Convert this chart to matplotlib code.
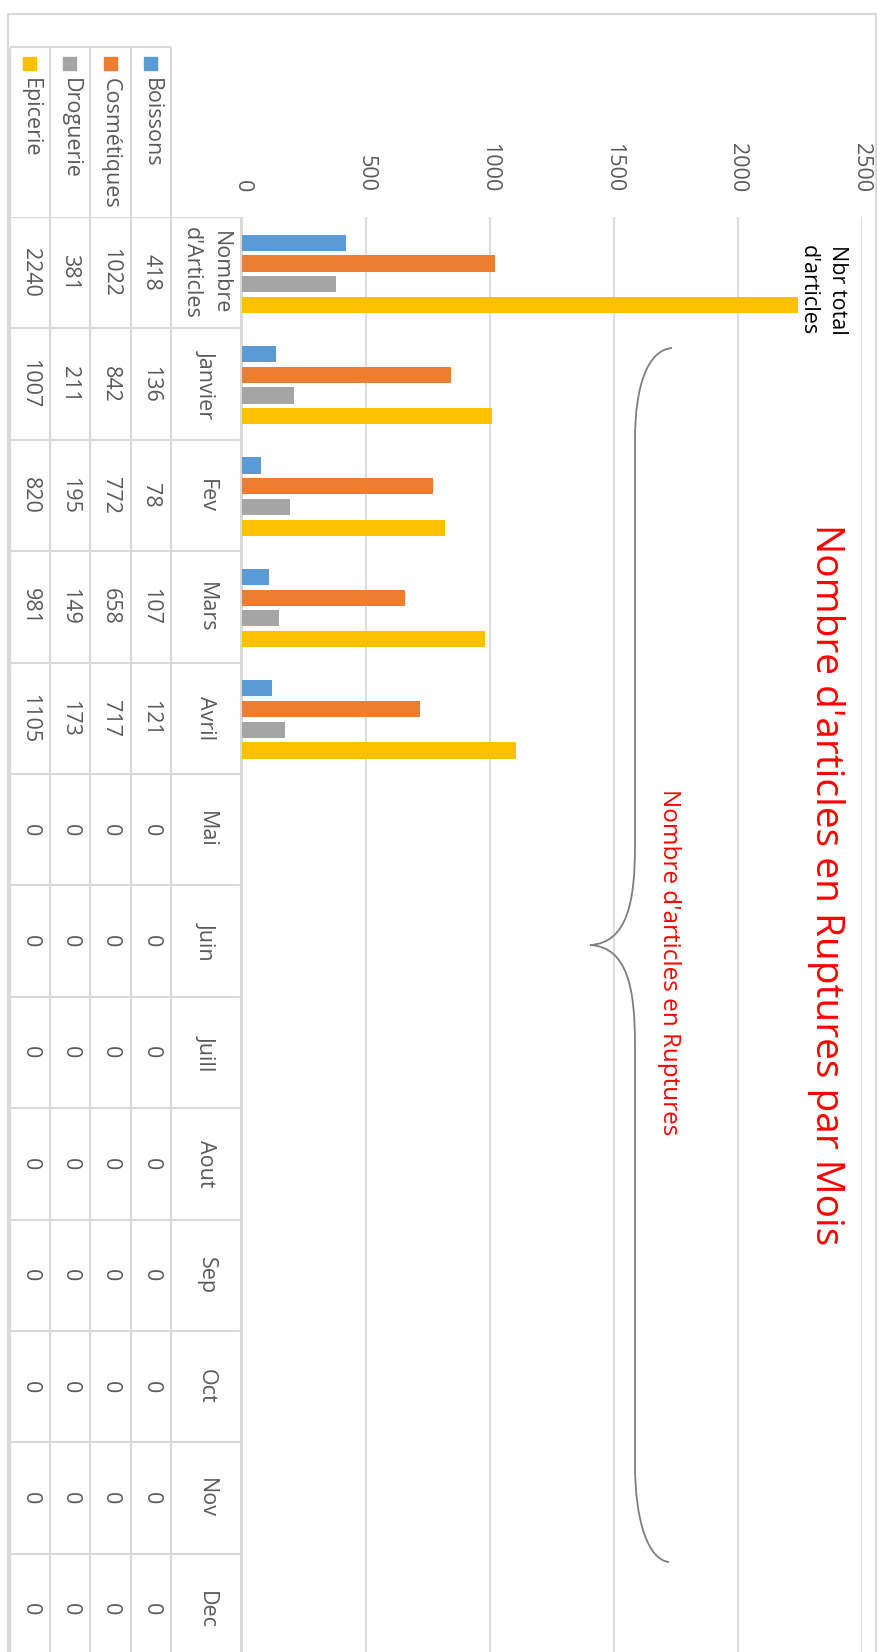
import numpy as np
import matplotlib
matplotlib.use("Agg")
import matplotlib.pyplot as plt
from matplotlib.patches import Rectangle, PathPatch
from matplotlib.path import Path

plt.rcParams['font.family'] = ['Open Sans', 'DejaVu Sans']

# data
categories = ["Nombre\nd'Articles", "Janvier", "Fev", "Mars", "Avril", "Mai", "Juin",
              "Juill", "Aout", "Sep", "Oct", "Nov", "Dec"]
series_names = ["Boissons", "Cosmétiques", "Droguerie", "Epicerie"]
boissons = [418, 136, 78, 107, 121, 0, 0, 0, 0, 0, 0, 0, 0]
cosmetiques = [1022, 842, 772, 658, 717, 0, 0, 0, 0, 0, 0, 0, 0]
droguerie = [381, 211, 195, 149, 173, 0, 0, 0, 0, 0, 0, 0, 0]
epicerie = [2240, 1007, 820, 981, 1105, 0, 0, 0, 0, 0, 0, 0, 0]
value_ticks = [0, 500, 1000, 1500, 2000, 2500]
title = "Nombre d'articles en Ruptures par Mois"
subtitle = "Nombre d'articles en Ruptures"
bar_label = "Nbr total\nd'articles"

series = [boissons, cosmetiques, droguerie, epicerie]
colors = ["#5B9BD5", "#ED7D31", "#A5A5A5", "#FFC000"]
text_grey = "#595959"
line_grey = "#D9D9D9"

# layout (pixels, chart is rotated 90 degrees clockwise)
W, H = 878, 1652
top = 217
row_h = 111.4
plot_left, plot_right = 242, 862
col_centers = [151, 110.5, 70, 30]   # Boissons .. Epicerie
cat_center = 206
col_edges = [10, 50, 90, 131, 171]

fig = plt.figure(figsize=(W / 100, H / 100), dpi=100)

ax = fig.add_axes([plot_left / W, 0, (plot_right - plot_left) / W, (H - top) / H])
n = len(categories)
y = np.arange(n)
y_bottom = -0.5 + (H - top) / row_h
ax.set_xlim(0, 2500)
ax.set_ylim(y_bottom, -0.5)
step = 0.186
for i, (vals, c) in enumerate(zip(series, colors)):
    ax.barh(y + (i - 1.5) * step + 0.01, vals, height=0.145, color=c, zorder=3)
ax.set_xticks(value_ticks)
ax.xaxis.tick_top()
ax.tick_params(axis='x', length=0, pad=18, labelsize=15.5, labelcolor=text_grey,
               labelrotation=-90)
ax.set_yticks([])
for s in ax.spines.values():
    s.set_visible(False)
ax.grid(axis='x', color=line_grey, lw=1.3)
ax.set_axisbelow(True)
ax.text(epicerie[0], 0.155, bar_label, rotation=-90, ha='left', va='center',
        fontsize=15.5, color='black', linespacing=1.5)

# data table
tb = fig.add_axes([0, 0, 1, (H - top) / H], sharey=ax)
tb.set_xlim(0, W)
tb.axis('off')
tb.hlines(np.arange(n + 1) - 0.5, 10, 241, color=line_grey, lw=1.5)
tb.vlines(col_edges + [241], -0.5, y_bottom, color=line_grey, lw=1.5)
for vals, cx in zip(series, col_centers):
    for i, v in enumerate(vals):
        tb.text(cx, i, str(v), rotation=-90, ha='center', va='center',
                fontsize=15.5, color=text_grey)
for i, cat in enumerate(categories):
    tb.text(cat_center, i, cat, rotation=-90, ha='center', va='center',
            fontsize=15.5, color=text_grey, linespacing=1.5, multialignment='center')

# overlay: border, legend header, titles, brace
ov = fig.add_axes([0, 0, 1, 1], zorder=5)
ov.set_xlim(0, W)
ov.set_ylim(H, 0)
ov.axis('off')
ov.plot([8, 8, 876.5, 876.5], [H, 14, 14, H], color=line_grey, lw=1.5)
ov.hlines(47, 10, 171, color=line_grey, lw=1.5)
ov.vlines(col_edges, 47, top, color=line_grey, lw=1.5)
for name, c, cx in zip(series_names, colors, col_centers):
    ov.add_patch(Rectangle((cx - 6.5, 57), 13, 13, color=c))
    ov.text(cx, 78, name, rotation=-90, rotation_mode='anchor', ha='left', va='center',
            fontsize=15.5, color=text_grey)

ov.text(826, 885, title, rotation=-90, ha='center', va='center', fontsize=28, color='red')
ov.text(669, 962, subtitle, rotation=-90, ha='center', va='center', fontsize=17.5, color='red')

verts = [(672, 348), (648, 350), (635, 385), (635, 440),
         (635, 845),
         (635, 900), (628, 943), (590, 945),
         (628, 947), (635, 990), (635, 1045),
         (635, 1465),
         (635, 1520), (648, 1560), (669, 1562)]
codes = [Path.MOVETO, Path.CURVE4, Path.CURVE4, Path.CURVE4,
         Path.LINETO,
         Path.CURVE4, Path.CURVE4, Path.CURVE4,
         Path.CURVE4, Path.CURVE4, Path.CURVE4,
         Path.LINETO,
         Path.CURVE4, Path.CURVE4, Path.CURVE4]
ov.add_patch(PathPatch(Path(verts, codes), fill=False, edgecolor='#7F7F7F', lw=1.3))

fig.savefig("out.png", dpi=100)
